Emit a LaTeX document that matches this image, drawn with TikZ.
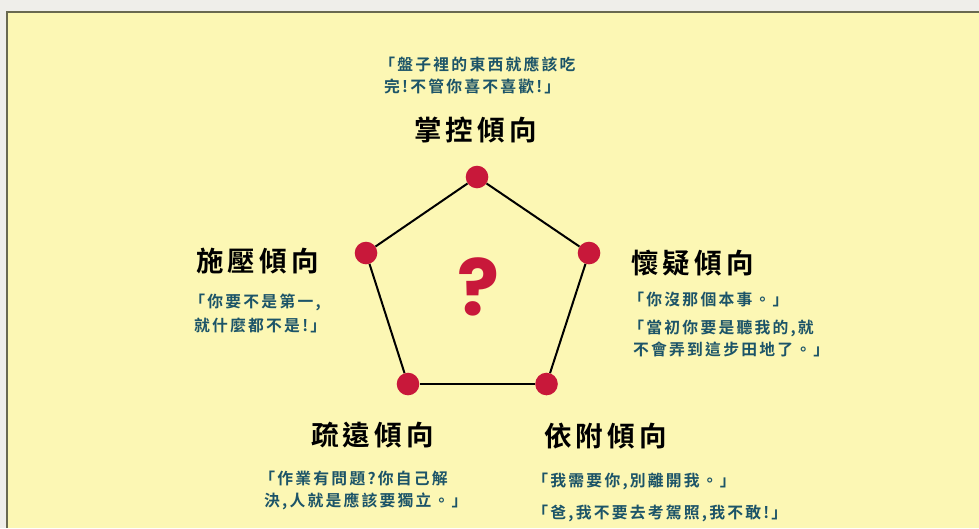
\documentclass[tikz,border=0pt]{standalone}
\usepackage{fontspec}
\newfontfamily\titlefont{Noto Sans CJK TC}[UprightFont={* Bold},LetterSpace=15]
\newfontfamily\quotefont{Noto Sans CJK TC}[UprightFont={* Bold},LetterSpace=14]
\newfontfamily\qmarkfont{Poppins}
\definecolor{pagegray}{RGB}{239,238,234}
\definecolor{panelyellow}{RGB}{252,247,180}
\definecolor{panelborder}{RGB}{105,105,80}
\definecolor{quoteteal}{RGB}{28,84,104}
\definecolor{dotred}{RGB}{200,24,58}
\newcommand\openq{\kern-0.3em「}
\tikzset{
  title/.style={anchor=base west,inner sep=0pt,font=\titlefont\fontsize{27.5}{30}\selectfont,text=black},
  quote/.style={anchor=base west,inner sep=0pt,align=left,font=\quotefont\fontsize{15.8}{22}\selectfont,text=quoteteal},
  vertex/.style={circle,fill=dotred,minimum size=22.6pt,inner sep=0pt},
  edge/.style={draw=black,line width=2pt}
}
\begin{document}
\begin{tikzpicture}[x=1pt,y=-1pt]
\useasboundingbox (0,0) rectangle (979,528);
\fill[pagegray] (0,0) rectangle (979,528);
\fill[panelyellow] (7,12) rectangle (979,528);
\draw[panelborder,line width=1.5pt] (7,528) -- (7,12) -- (979,12);
% vertices
\node[vertex] (top) at (477,177) {};
\node[vertex] (ul) at (366,253) {};
\node[vertex] (ur) at (589,253) {};
\node[vertex] (bl) at (408,384) {};
\node[vertex] (br) at (546.5,384) {};
\draw[edge] (top) -- (ur);
\draw[edge] (ur) -- (br);
\draw[edge] (br) -- (bl);
\draw[edge] (bl) -- (ul);
\draw[edge] (ul) -- (top);
\node[text=dotred,font=\qmarkfont\bfseries\fontsize{78}{78}\selectfont,inner sep=0pt] (qm) at (478,287) {?};
% titles
\node[title] (t1) at (414,140.8) {掌控傾向};
\node[title] (t2) at (196,271.8) {施壓傾向};
\node[title] (t3) at (631,273.3) {懷疑傾向};
\node[title] (t4) at (311,445.8) {疏遠傾向};
\node[title] (t5) at (544,446.3) {依附傾向};
% quotes (anchored at the baseline of the last line)
\node[quote] (q1) at (384,92.2) {\openq 盤子裡的東西就應該吃\\完!不管你喜不喜歡!」};
\node[quote,font=\quotefont\fontsize{15.8}{24}\selectfont] (q2) at (194,331.7) {\openq 你要不是第一,\\就什麼都不是!」};
\node[quote] (q3) at (633,305.7) {\openq 你沒那個本事。」};
\node[quote] (q4) at (633,355.7) {\openq 當初你要是聽我的,就\\不會弄到這步田地了。」};
\node[quote] (q5) at (264,506.7) {\openq 作業有問題?你自己解\\決,人就是應該要獨立。」};
\node[quote] (q6) at (537,486.7) {\openq 我需要你,別離開我。」};
\node[quote] (q7) at (537,518.7) {\openq 爸,我不要去考駕照,我不敢!」};
\end{tikzpicture}
\end{document}
